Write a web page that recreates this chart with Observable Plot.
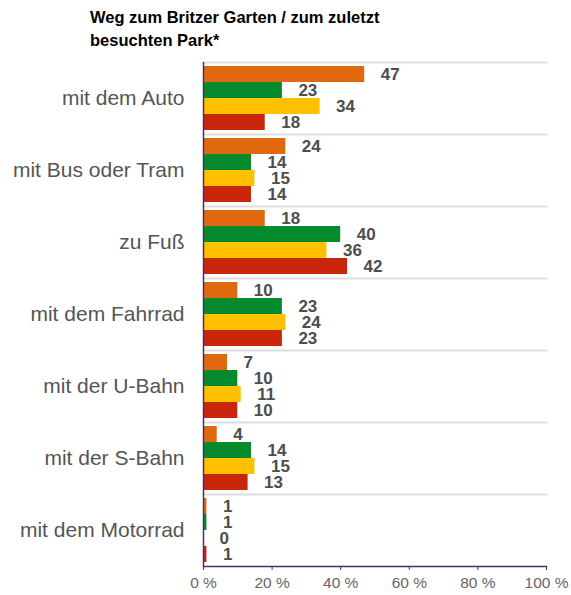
<!DOCTYPE html>
<html><head><meta charset="utf-8">
<script src="https://cdn.jsdelivr.net/npm/d3@7"></script>
<script src="https://cdn.jsdelivr.net/npm/@observablehq/plot@0.6"></script>
<style>
body{margin:0;background:#fff;font-family:"Liberation Sans",Arial,sans-serif;}
#title{box-sizing:border-box;padding:6px 0 0 90px;height:55px;font-size:16.5px;font-weight:bold;line-height:23px;color:#000;}
</style></head><body>
<div id="title">Weg zum Britzer Garten / zum zuletzt<br>besuchten Park*</div>
<div id="chart"></div>
<script>
const categories = ["mit dem Auto", "mit Bus oder Tram", "zu Fuß", "mit dem Fahrrad", "mit der U-Bahn", "mit der S-Bahn", "mit dem Motorrad"];
const seriesNames = ["Reihe 1", "Reihe 2", "Reihe 3", "Reihe 4"];
const seriesColors = ["#E0690F", "#058B2E", "#FFC000", "#C9250A"];
const valuesReihe1 = [47, 24, 18, 10, 7, 4, 1];
const valuesReihe2 = [23, 14, 40, 23, 10, 14, 1];
const valuesReihe3 = [34, 15, 36, 24, 11, 15, 0];
const valuesReihe4 = [18, 14, 42, 23, 10, 13, 1];
const tickValues = [0, 20, 40, 60, 80, 100];

const seriesValues = [valuesReihe1, valuesReihe2, valuesReihe3, valuesReihe4];
const data = [];
categories.forEach((cat, i) => {
  seriesNames.forEach((s, j) => {
    data.push({cat, series: s, value: seriesValues[j][i]});
  });
});

const purple = "#4b2c6e";
const chart = Plot.plot({
  width: 571,
  height: 540,
  marginTop: 5,
  marginBottom: 27.5,
  marginLeft: 203,
  marginRight: 25,
  style: {fontFamily: "'Liberation Sans', Arial, sans-serif", background: "white"},
  x: {domain: [0, 100], label: null},
  y: {domain: seriesNames, paddingInner: 0, paddingOuter: 0.13, axis: null},
  fy: {domain: categories, padding: 0, label: null},
  color: {domain: seriesNames, range: seriesColors},
  marks: [
    Plot.frame({anchor: "top", stroke: "#dddddd", strokeWidth: 2}),
    Plot.barX(data, {x: "value", y: "series", fy: "cat", fill: "series"}),
    Plot.text(data, {x: "value", y: "series", fy: "cat", text: d => String(d.value), textAnchor: "start", dx: 16, fontWeight: "bold", fontSize: 17, fill: "#4d4d4d"}),
    Plot.ruleX([0], {stroke: purple, strokeWidth: 1.5}),
    Plot.frame({anchor: "bottom", facetAnchor: "bottom", stroke: purple, strokeWidth: 1.5}),
    Plot.axisX({ticks: tickValues, tickFormat: d => d + " %", tickSize: 4, tickPadding: 6, stroke: purple, fill: "#666", fontSize: 15.5}),
    Plot.axisFy({anchor: "left", tickSize: 0, tickPadding: 19, fontSize: 21, fill: "#555", label: null})
  ]
});
document.getElementById("chart").appendChild(chart);
</script>
</body></html>
